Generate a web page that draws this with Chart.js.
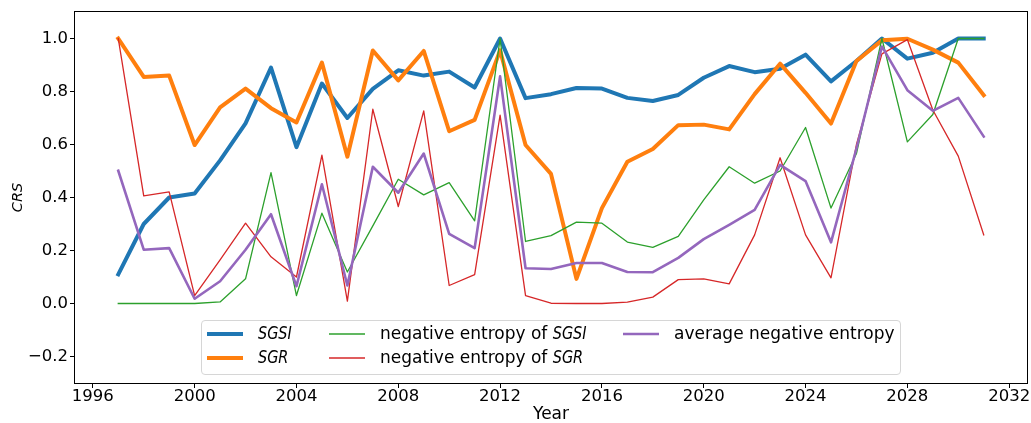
<!DOCTYPE html>
<html>
<head>
<meta charset="utf-8">
<script src="https://cdn.jsdelivr.net/npm/chart.js@4.4.0/dist/chart.umd.min.js"></script>
<style>
  html, body { margin: 0; padding: 0; background: #fff; }
  #wrap { width: 1031px; height: 423px; }
</style>
</head>
<body>
<div id="wrap"><canvas id="chart" width="1031" height="423"></canvas></div>
<script>
// Data
const years = [1997, 1998, 1999, 2000, 2001, 2002, 2003, 2004, 2005, 2006, 2007, 2008,
  2009, 2010, 2011, 2012, 2013, 2014, 2015, 2016, 2017, 2018, 2019, 2020, 2021, 2022,
  2023, 2024, 2025, 2026, 2027, 2028, 2029, 2030, 2031];

const sgsi = [0.11, 0.30, 0.40, 0.415, 0.54, 0.68, 0.89, 0.59, 0.83, 0.70, 0.81, 0.88,
  0.86, 0.875, 0.815, 1.0, 0.775, 0.79, 0.813, 0.811, 0.776, 0.764, 0.787, 0.852, 0.896,
  0.873, 0.886, 0.939, 0.838, 0.915, 1.0, 0.924, 0.946, 1.0, 1.0];

const sgr = [1.0, 0.855, 0.86, 0.598, 0.74, 0.811, 0.737, 0.683, 0.909, 0.554, 0.955,
  0.842, 0.953, 0.65, 0.693, 0.955, 0.598, 0.489, 0.093, 0.36, 0.535, 0.583, 0.673,
  0.675, 0.657, 0.79, 0.905, 0.795, 0.679, 0.915, 0.993, 0.999, 0.958, 0.909, 0.786];

const negEntropySgsi = [0, 0, 0, 0, 0.006, 0.093, 0.494, 0.03, 0.341, 0.119, 0.293,
  0.469, 0.41, 0.456, 0.312, 1.0, 0.234, 0.256, 0.307, 0.303, 0.232, 0.212, 0.253,
  0.391, 0.516, 0.454, 0.5, 0.664, 0.36, 0.566, 1.0, 0.61, 0.713, 1.0, 1.0];

const negEntropySgr = [1.0, 0.406, 0.421, 0.03, 0.165, 0.303, 0.176, 0.1, 0.56, 0.009,
  0.733, 0.366, 0.727, 0.068, 0.109, 0.711, 0.03, 0.001, 0, 0, 0.005, 0.024, 0.09,
  0.093, 0.074, 0.259, 0.55, 0.259, 0.097, 0.6, 0.942, 0.996, 0.73, 0.556, 0.259];

const avgNegEntropy = [0.501, 0.203, 0.209, 0.018, 0.084, 0.203, 0.337, 0.065, 0.45,
  0.068, 0.516, 0.418, 0.566, 0.263, 0.209, 0.857, 0.133, 0.13, 0.153, 0.153, 0.119,
  0.118, 0.172, 0.243, 0.297, 0.353, 0.523, 0.462, 0.231, 0.585, 0.97, 0.805, 0.727,
  0.776, 0.63];

const xTicks = [1996, 2000, 2004, 2008, 2012, 2016, 2020, 2024, 2028, 2032];
const yTicks = [-0.2, 0, 0.2, 0.4, 0.6, 0.8, 1.0];

const FONT = 'DejaVu Sans';
Chart.defaults.font.family = FONT;
Chart.defaults.color = '#000';

// Series styling (draw order: blue first, purple last)
const series = [
  { label: 'SGSI', values: sgsi, color: '#1f77b4', width: 4 },
  { label: 'SGR', values: sgr, color: '#ff7f0e', width: 4 },
  { label: 'negative entropy of SGSI', values: negEntropySgsi, color: '#2ca02c', width: 1.3 },
  { label: 'negative entropy of SGR', values: negEntropySgr, color: '#d62728', width: 1.3 },
  { label: 'average negative entropy', values: avgNegEntropy, color: '#9467bd', width: 2.6 }
];

function toPoints(values) {
  return years.map((x, i) => ({ x: x, y: values[i] }));
}

function fmtY(v) {
  const s = Math.abs(v).toFixed(1);
  return v < 0 ? '\u2212' + s : s;
}

// Draws text, italicising the SGSI / SGR symbols like mathtext
function drawLabel(ctx, text, x, y, size) {
  const parts = text.split(/(SGSI|SGR)/).filter(p => p.length);
  parts.forEach(p => {
    if (p === 'SGSI' || p === 'SGR') {
      ctx.font = 'italic ' + size + 'px "' + FONT + '"';
      const w = ctx.measureText(p).width * 0.85;
      ctx.save();
      ctx.translate(x, y);
      ctx.scale(0.85, 1);
      ctx.fillText(p, 0, 0);
      ctx.restore();
      x += w;
    } else {
      ctx.font = size + 'px "' + FONT + '"';
      ctx.fillText(p, x, y);
      x += ctx.measureText(p).width;
    }
  });
}

// Axes box on all four sides
const framePlugin = {
  id: 'frame',
  afterDatasetsDraw(chart) {
    const { ctx, chartArea: a } = chart;
    ctx.save();
    ctx.strokeStyle = '#000';
    ctx.lineWidth = 1;
    ctx.strokeRect(Math.round(a.left) - 0.5, Math.round(a.top) - 0.5,
      Math.round(a.right - a.left) + 1, Math.round(a.bottom - a.top) + 1);
    ctx.restore();
  }
};

// Three-column legend like matplotlib's ncol=3
const legendPlugin = {
  id: 'mplLegend',
  afterDraw(chart) {
    const ctx = chart.ctx;
    const box = { x: 201, y: 320, w: 699, h: 54 };
    const cols = [207, 329, 623];
    const rows = [334, 358];
    const handleLen = 36, textGap = 15;
    ctx.save();
    ctx.beginPath();
    ctx.roundRect(box.x + 0.5, box.y + 0.5, box.w, box.h, 3.5);
    ctx.fillStyle = 'rgba(255,255,255,0.8)';
    ctx.fill();
    ctx.strokeStyle = '#d6d6d6';
    ctx.lineWidth = 1;
    ctx.stroke();
    chart.data.datasets.forEach((ds, i) => {
      const x = cols[Math.floor(i / 2)];
      const y = rows[i % 2];
      ctx.beginPath();
      ctx.moveTo(x, y);
      ctx.lineTo(x + handleLen, y);
      ctx.strokeStyle = ds.borderColor;
      ctx.lineWidth = ds.borderWidth;
      ctx.lineCap = 'butt';
      ctx.stroke();
      ctx.fillStyle = '#000';
      ctx.textBaseline = 'middle';
      ctx.textAlign = 'left';
      drawLabel(ctx, ds.label, x + handleLen + textGap, y + 1, 17);
    });
    ctx.restore();
  }
};

const axisGrid = {
  drawOnChartArea: false,
  drawTicks: true,
  tickLength: 5,
  color: '#000',
  lineWidth: 1
};

new Chart(document.getElementById('chart').getContext('2d'), {
  type: 'line',
  data: {
    datasets: series.map((s, i) => ({
      label: s.label,
      data: toPoints(s.values),
      borderColor: s.color,
      backgroundColor: s.color,
      borderWidth: s.width,
      pointRadius: 0,
      tension: 0,
      fill: false,
      borderJoinStyle: 'round',
      borderCapStyle: 'square',
      order: series.length - i
    }))
  },
  options: {
    responsive: false,
    animation: false,
    devicePixelRatio: 1,
    layout: { padding: { top: 12, right: 4, bottom: 0, left: 0 } },
    plugins: {
      legend: { display: false },
      tooltip: { enabled: false }
    },
    scales: {
      x: {
        type: 'linear',
        min: 1995.3,
        max: 2032.7,
        afterBuildTicks: s => { s.ticks = xTicks.map(v => ({ value: v })); },
        afterFit: s => { s.height = 40; s.paddingLeft = 0; s.paddingRight = 0; },
        ticks: {
          font: { size: 16.5, lineHeight: 1 },
          padding: 0,
          maxRotation: 0,
          autoSkip: false,
          color: '#000',
          callback: v => String(v)
        },
        grid: axisGrid,
        border: { display: false },
        title: {
          display: true,
          text: 'Year',
          color: '#000',
          font: { size: 17, lineHeight: 1 },
          padding: { top: 0, bottom: 0 }
        }
      },
      y: {
        type: 'linear',
        min: -0.3,
        max: 1.1,
        afterBuildTicks: s => { s.ticks = yTicks.map(v => ({ value: v })); },
        afterFit: s => { s.width = 75; },
        ticks: {
          font: { size: 16.5 },
          padding: 2,
          color: '#000',
          callback: v => fmtY(v)
        },
        grid: axisGrid,
        border: { display: false },
        title: {
          display: true,
          text: 'CRS',
          color: '#000',
          font: { size: 14.5, style: 'italic', lineHeight: 1 },
          padding: { top: 10.75, bottom: 0 }
        }
      }
    }
  },
  plugins: [framePlugin, legendPlugin]
});
</script>
</body>
</html>
